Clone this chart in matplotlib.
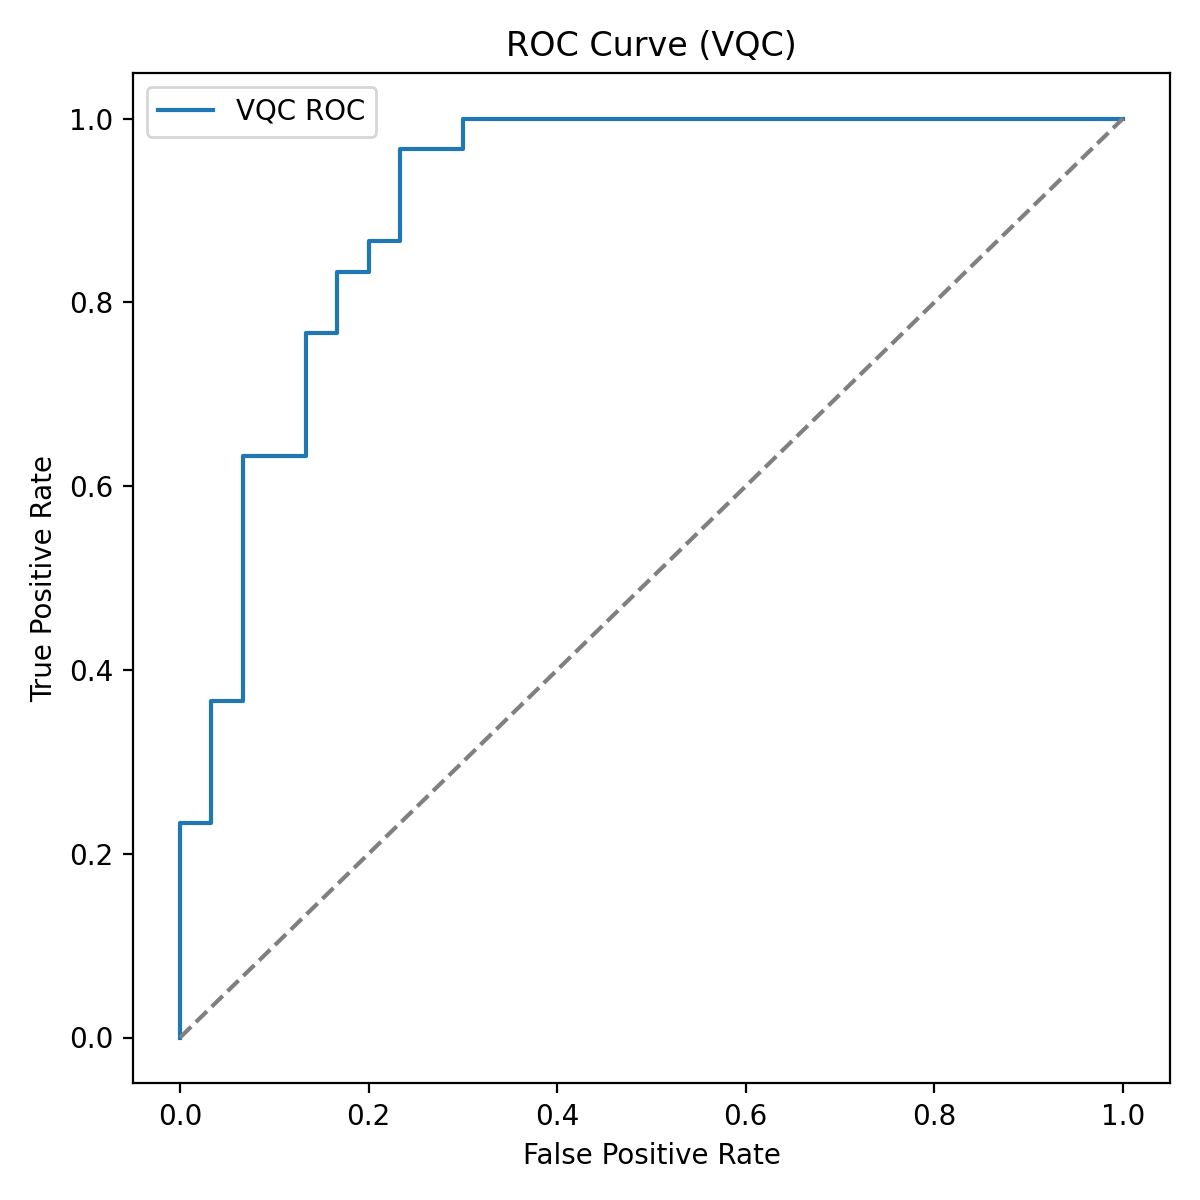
import matplotlib
matplotlib.use("Agg")
import matplotlib.pyplot as plt

# ROC points (sklearn-style roc_curve output, 30 positives / 30 negatives)
fpr = [0, 0, 1/30, 1/30, 2/30, 2/30, 4/30, 4/30, 5/30, 5/30, 6/30, 6/30,
       7/30, 7/30, 9/30, 9/30, 1.0]
tpr = [0, 7/30, 7/30, 11/30, 11/30, 19/30, 19/30, 23/30, 23/30, 25/30, 25/30,
       26/30, 26/30, 29/30, 29/30, 1.0, 1.0]

fig = plt.figure(figsize=(6, 6), dpi=200)
plt.plot(fpr, tpr, label="VQC ROC")
plt.plot([0, 1], [0, 1], linestyle="--", color="gray")
plt.xlabel("False Positive Rate")
plt.ylabel("True Positive Rate")
plt.title("ROC Curve (VQC)")
plt.legend(loc="upper left")
plt.tight_layout()
plt.savefig("out.png")
